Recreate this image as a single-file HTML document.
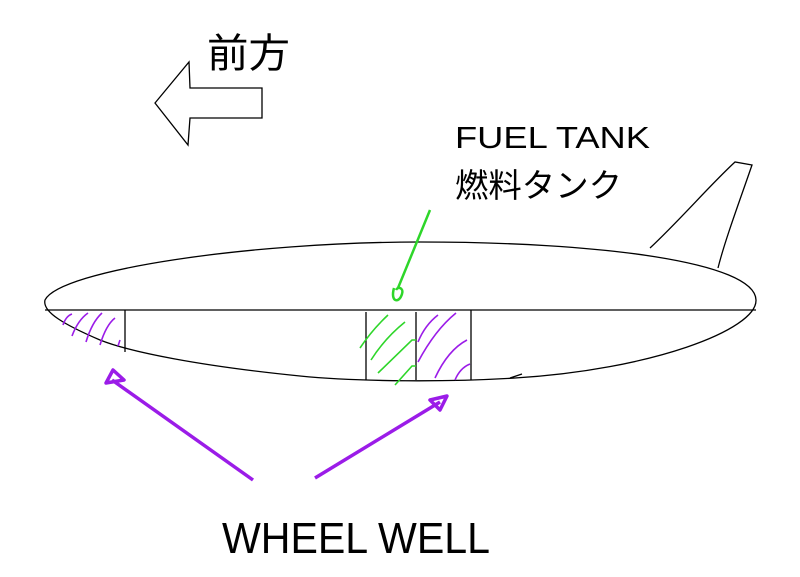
<!DOCTYPE html>
<html><head><meta charset="utf-8"><style>
html,body{margin:0;padding:0;background:#fff;width:800px;height:577px;overflow:hidden}
</style></head><body>
<svg width="800" height="577" viewBox="0 0 800 577" xmlns="http://www.w3.org/2000/svg">
<g fill="none" stroke="#000" stroke-width="1.3">
<polygon points="155,103 189,62 190,88 262,88 262,118 190,118 188,145"/>
<path d="M45,300 C60,270 250,242 420,242 C600,242 755,262 756,300 C757,330 650,370 515,378 C450,382 360,382 300,376 C200,366 130,352 100,340 C65,325 42,312 45,300 Z"/>
<path d="M510,378 L522,374"/>
<line x1="45" y1="310" x2="756" y2="310"/>
<line x1="125" y1="310" x2="125" y2="352"/>
<line x1="366" y1="312" x2="366" y2="380"/>
<line x1="416" y1="312" x2="416" y2="380"/>
<line x1="471" y1="310" x2="471" y2="380"/>
<path d="M650,248 C680,220 710,185 735,162 L752,165 C740,200 725,240 718,268"/>
</g>
<g fill="none" stroke="#9b1ce8" stroke-width="1.6">
<path d="M63,325 Q66,316 72,314 M72,336 Q78,320 88,313 M86,342 Q92,322 102,313 M100,345 Q106,325 115,318 M118,346 L120,340"/>
<path d="M418,342 Q425,325 438,315 M418,362 Q435,330 456,313 M435,378 Q448,350 467,340 M455,380 Q460,368 470,364"/>
</g>
<g fill="none" stroke="#2ed62a" stroke-width="1.6">
<path d="M360,348 Q372,330 388,315 M371,360 Q385,338 405,322 M378,373 L412,340 L416,340 M395,385 L412,366 L416,366"/>
</g>
<g fill="none" stroke="#2ed62a" stroke-width="2.5">
<path d="M430,210 L398,288"/>
<path d="M394,288 C390,302 399,304 402,294 C404,288 398,286 396,290"/>
</g>
<g fill="none" stroke="#9b1ce8" stroke-width="3.5" stroke-linejoin="round">
<line x1="253" y1="480" x2="112" y2="380"/>
<polygon points="106,383 113,370 124,380"/>
<line x1="315" y1="478" x2="440" y2="402"/>
<polygon points="430,400 447,396 440,410"/>
</g>
<g font-family="'Liberation Sans','Noto Sans CJK JP',sans-serif" fill="#000">
<text x="207" y="67" font-size="40" textLength="83" lengthAdjust="spacingAndGlyphs">前方</text>
<text x="455" y="148" font-size="31" textLength="195" lengthAdjust="spacingAndGlyphs">FUEL TANK</text>
<text x="455" y="197" font-size="33" textLength="167" lengthAdjust="spacingAndGlyphs">燃料タンク</text>
<text x="222" y="553" font-size="44" textLength="268" lengthAdjust="spacingAndGlyphs">WHEEL WELL</text>
</g>
</svg>
</body></html>
